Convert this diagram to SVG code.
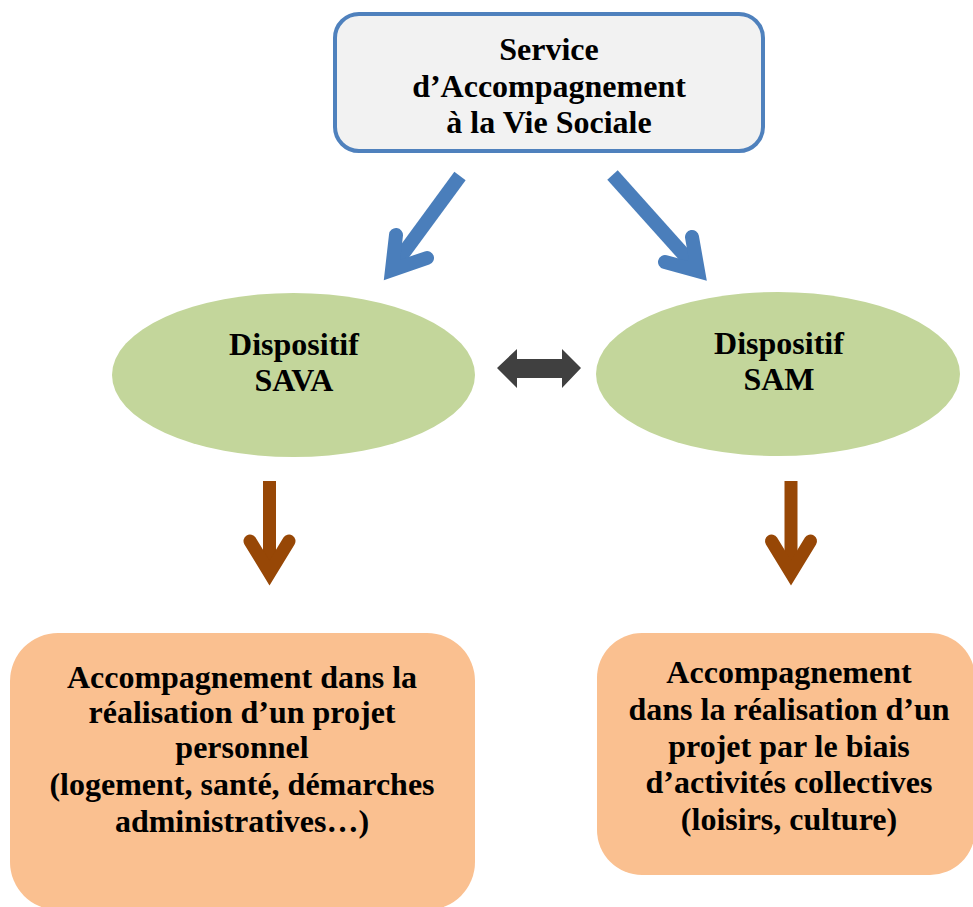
<svg xmlns="http://www.w3.org/2000/svg" width="973" height="907" viewBox="0 0 973 907">
<style>
text{font-family:"Liberation Serif","Times New Roman",serif;font-weight:bold;font-size:32px;fill:#000;text-anchor:middle}
.blue{fill:none;stroke:#4a7ebb;stroke-width:14}
.brown{fill:none;stroke:#974706;stroke-width:13}
.head{stroke-linecap:round;stroke-linejoin:miter;stroke-miterlimit:10}
</style>
<rect width="973" height="907" fill="#fff"/>
<g id="connectors">
  <g id="arrow-left">
    <line class="blue" x1="460" y1="176" x2="394" y2="266"/>
    <polyline class="blue head" points="396,235 392,270 427,258"/>
  </g>
  <g id="arrow-right">
    <line class="blue" x1="612.5" y1="175" x2="695" y2="267"/>
    <polyline class="blue head" points="692,237 698,271 665,262"/>
  </g>
  <polygon id="double-arrow" fill="#404040" points="497,368 517,349 517,359 562,359 562,349 581,368 562,388 562,378 517,378 517,388"/>
  <g id="arrow-sava">
    <line class="brown" x1="269.5" y1="481" x2="269.5" y2="570"/>
    <polyline class="brown head" points="250,541 269.5,573 289,541"/>
  </g>
  <g id="arrow-sam">
    <line class="brown" x1="791" y1="481" x2="791" y2="570"/>
    <polyline class="brown head" points="771.5,541 791,573 810.5,541"/>
  </g>
</g>
<g id="savs">
  <rect x="335" y="14" width="428" height="137" rx="24" fill="#f2f2f2" stroke="#4f81bd" stroke-width="4"/>
  <text x="549" y="60">Service</text>
  <text x="549" y="97">d’Accompagnement</text>
  <text x="549" y="133">à la Vie Sociale</text>
</g>
<g id="sava">
  <ellipse cx="293.5" cy="375" rx="181.5" ry="82" fill="#c3d69b"/>
  <text x="294" y="355">Dispositif</text>
  <text x="294" y="391">SAVA</text>
</g>
<g id="sam">
  <ellipse cx="778" cy="374" rx="182" ry="82" fill="#c3d69b"/>
  <text x="779" y="354">Dispositif</text>
  <text x="779" y="390">SAM</text>
</g>
<g id="box-sava">
  <rect x="10" y="633" width="465" height="277" rx="48" fill="#fac090"/>
  <text x="242" y="688">Accompagnement dans la</text>
  <text x="242" y="723">réalisation d’un projet</text>
  <text x="242" y="758">personnel</text>
  <text x="242" y="795">(logement, santé, démarches</text>
  <text x="242" y="832">administratives…)</text>
</g>
<g id="box-sam">
  <rect x="597" y="633" width="378" height="242" rx="45" fill="#fac090"/>
  <text x="789" y="683">Accompagnement</text>
  <text x="789" y="720">dans la réalisation d’un</text>
  <text x="789" y="757">projet par le biais</text>
  <text x="789" y="793">d’activités collectives</text>
  <text x="789" y="830">(loisirs, culture)</text>
</g>
</svg>
